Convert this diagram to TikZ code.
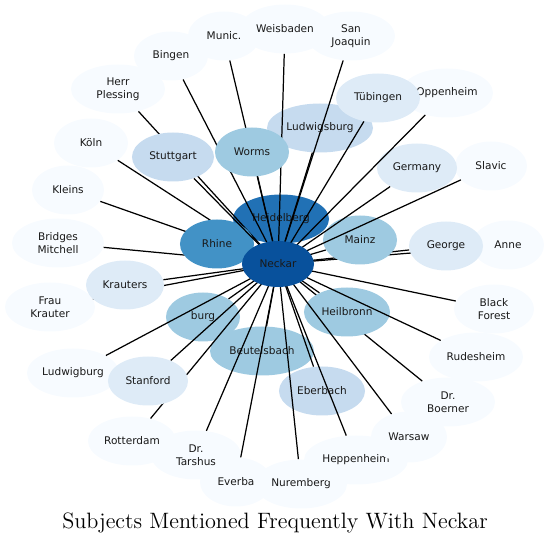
\documentclass[tikz,border=0pt]{standalone}
\usepackage{fontspec}
\newfontfamily\dejavu{DejaVu Sans}
\usetikzlibrary{shapes.geometric}
\definecolor{blues0}{HTML}{F7FBFF}
\definecolor{blues1}{HTML}{DEEBF7}
\definecolor{blues2}{HTML}{C6DBEF}
\definecolor{blues3}{HTML}{9ECAE1}
\definecolor{blues5}{HTML}{4292C6}
\definecolor{blues6}{HTML}{2171B5}
\definecolor{blues7}{HTML}{08519C}

\begin{document}
\begin{tikzpicture}[
  x=0.2mm, y=-0.2mm,
  subj/.style = {ellipse, inner sep=0pt, minimum width=14.8mm, minimum height=9.8mm,
                 font=\dejavu\fontsize{6}{7.2}\selectfont, align=center, text=black!90},
  wd/.style   = {minimum width=#1mm},
  ht/.style   = {minimum height=#1mm},
  b0/.style   = {subj, fill=blues0},
  b1/.style   = {subj, fill=blues1},
  b2/.style   = {subj, fill=blues2},
  b3/.style   = {subj, fill=blues3},
  b5/.style   = {subj, fill=blues5},
  b6/.style   = {subj, fill=blues6},
  b7/.style   = {subj, fill=blues7},
  link/.style = {line width=0.7pt, black},
]
\useasboundingbox (0,0) rectangle (550,545);

\coordinate (hub) at (278,264);

% ── Outer ring ───────────────────────────────────────────────────────────────
\node[b0, wd=18.4] (oppenheim)   at (447,93)  {Oppenheim};
\node[b0, wd=14.4] (anne)        at (508,245) {Anne};
\node[b0, wd=14.4] (slavic)      at (491,166) {Slavic};
\node[b0, wd=14.4] (munich)      at (224,36)  {Munic.};
\node[b0, wd=17.6] (sanjoaquin)  at (351,36)  {San\\Joaquin};
\node[b0, wd=18.0] (weisbaden)   at (285,29)  {Weisbaden};
\node[b0]          (bingen)      at (171,56)  {Bingen};
\node[b0, wd=18.8] (plessing)    at (118,89)  {Herr\\Plessing};
\node[b0]          (koeln)       at (91,143)  {Köln};
\node[b0, wd=14.4] (kleins)      at (68,190)  {Kleins};
\node[b0, wd=18.4] (bridges)     at (58,243)  {Bridges\\Mitchell};
\node[b0, wd=18.0] (fraukrauter) at (50,307)  {Frau\\Krauter};
\node[b0, wd=18.4] (ludwigburg)  at (73,373)  {Ludwigburg};
\node[b0, wd=14.4] (everba)      at (236,482) {Everba};
\node[b0, wd=18.0] (tarshus)     at (196,455) {Dr.\\Tarshus};
\node[b0, wd=17.6] (rotterdam)   at (132,441) {Rotterdam};
\node[b0, wd=18.4] (nuremberg)   at (301,484) {Nuremberg};
\node[b0, wd=20.8] (heppenheim)  at (356,460) {Heppenheim};
\node[b0, wd=15.2, ht=10.2] (warsaw) at (409,437) {Warsaw};
\node[b0, wd=18.8] (boerner)     at (448,402) {Dr.\\Boerner};
\node[b0, wd=18.8] (rudesheim)   at (476,357) {Rudesheim};
\node[b0, wd=16.0] (blackforest) at (494,309) {Black\\Forest};

% ── Inner nodes under the links ──────────────────────────────────────────────
\node[b6, wd=19.2] (heidelberg)  at (281,219) {Heidelberg};
\node[b2, wd=21.2] (ludwigsburg) at (320,128) {Ludwigsburg};
\node[b1, wd=16.8] (tuebingen)   at (378,98)  {Tübingen};
\node[b1, wd=16.0] (germany)     at (417,168) {Germany};
\node[b3]          (burg)        at (203,317) {burg};
\node[b3, wd=20.8] (beutelsbach) at (262,351) {Beutelsbach};
\node[b2, wd=17.2] (eberbach)    at (322,391) {Eberbach};

% ── Links hidden behind later nodes ──────────────────────────────────────────
\draw[link] (hub) -- (bingen);
\draw[link] (hub) -- (munich);
\draw[link] (hub) -- (weisbaden);
\draw[link] (hub) -- (plessing);
\draw[link] (hub) -- (koeln);
\draw[link] (hub) -- (kleins);
\draw[link] (hub) -- (bridges);
\draw[link] (hub) -- (fraukrauter);
\draw[link] (hub) -- (rotterdam);
\draw[link] (hub) -- (anne);
\draw[link] (hub) -- (boerner);

% ── Inner nodes over the links ───────────────────────────────────────────────
\node[b3]          (worms)       at (252,152) {Worms};
\node[b2, wd=16.4] (stuttgart)   at (173,157) {Stuttgart};
\node[b5]          (rhine)       at (217,244) {Rhine};
\node[b1, wd=15.6] (krauters)    at (125,285) {Krauters};
\node[b1, wd=16.0] (stanford)    at (148,381) {Stanford};
\node[b1]          (george)      at (446,246) {George};
\draw[link] (hub) -- (george);
\node[b3]          (mainz)       at (360,240) {Mainz};
\node[b3, wd=17.2] (heilbronn)   at (347,312) {Heilbronn};

% ── Remaining links ──────────────────────────────────────────────────────────
\draw[link] (hub) -- (worms);
\draw[link] (hub) -- (stuttgart);
\draw[link] (hub) -- (rhine);
\draw[link] (hub) -- (krauters);
\draw[link] (hub) -- (stanford);
\draw[link] (hub) -- (mainz);
\draw[link] (hub) -- (heilbronn);
\draw[link] (hub) -- (heidelberg);
\draw[link] (hub) -- (ludwigsburg);
\draw[link] (hub) -- (sanjoaquin);
\draw[link] (hub) -- (tuebingen);
\draw[link] (hub) -- (oppenheim);
\draw[link] (hub) -- (germany);
\draw[link] (hub) -- (slavic);
\draw[link] (hub) -- (blackforest);
\draw[link] (hub) -- (rudesheim);
\draw[link] (hub) -- (warsaw);
\draw[link] (hub) -- (heppenheim);
\draw[link] (hub) -- (nuremberg);
\draw[link] (hub) -- (everba);
\draw[link] (hub) -- (tarshus);
\draw[link] (hub) -- (beutelsbach);
\draw[link] (hub) -- (eberbach);
\draw[link] (hub) -- (burg);
\draw[link] (hub) -- (ludwigburg);

% ── Centre ───────────────────────────────────────────────────────────────────
\node[b7, wd=14.4, ht=9.2] (neckar) at (hub) {Neckar};

\node[font=\fontsize{12.65}{15}\selectfont] (title) at (275,523)
      {Subjects Mentioned Frequently With Neckar};

\end{tikzpicture}
\end{document}
